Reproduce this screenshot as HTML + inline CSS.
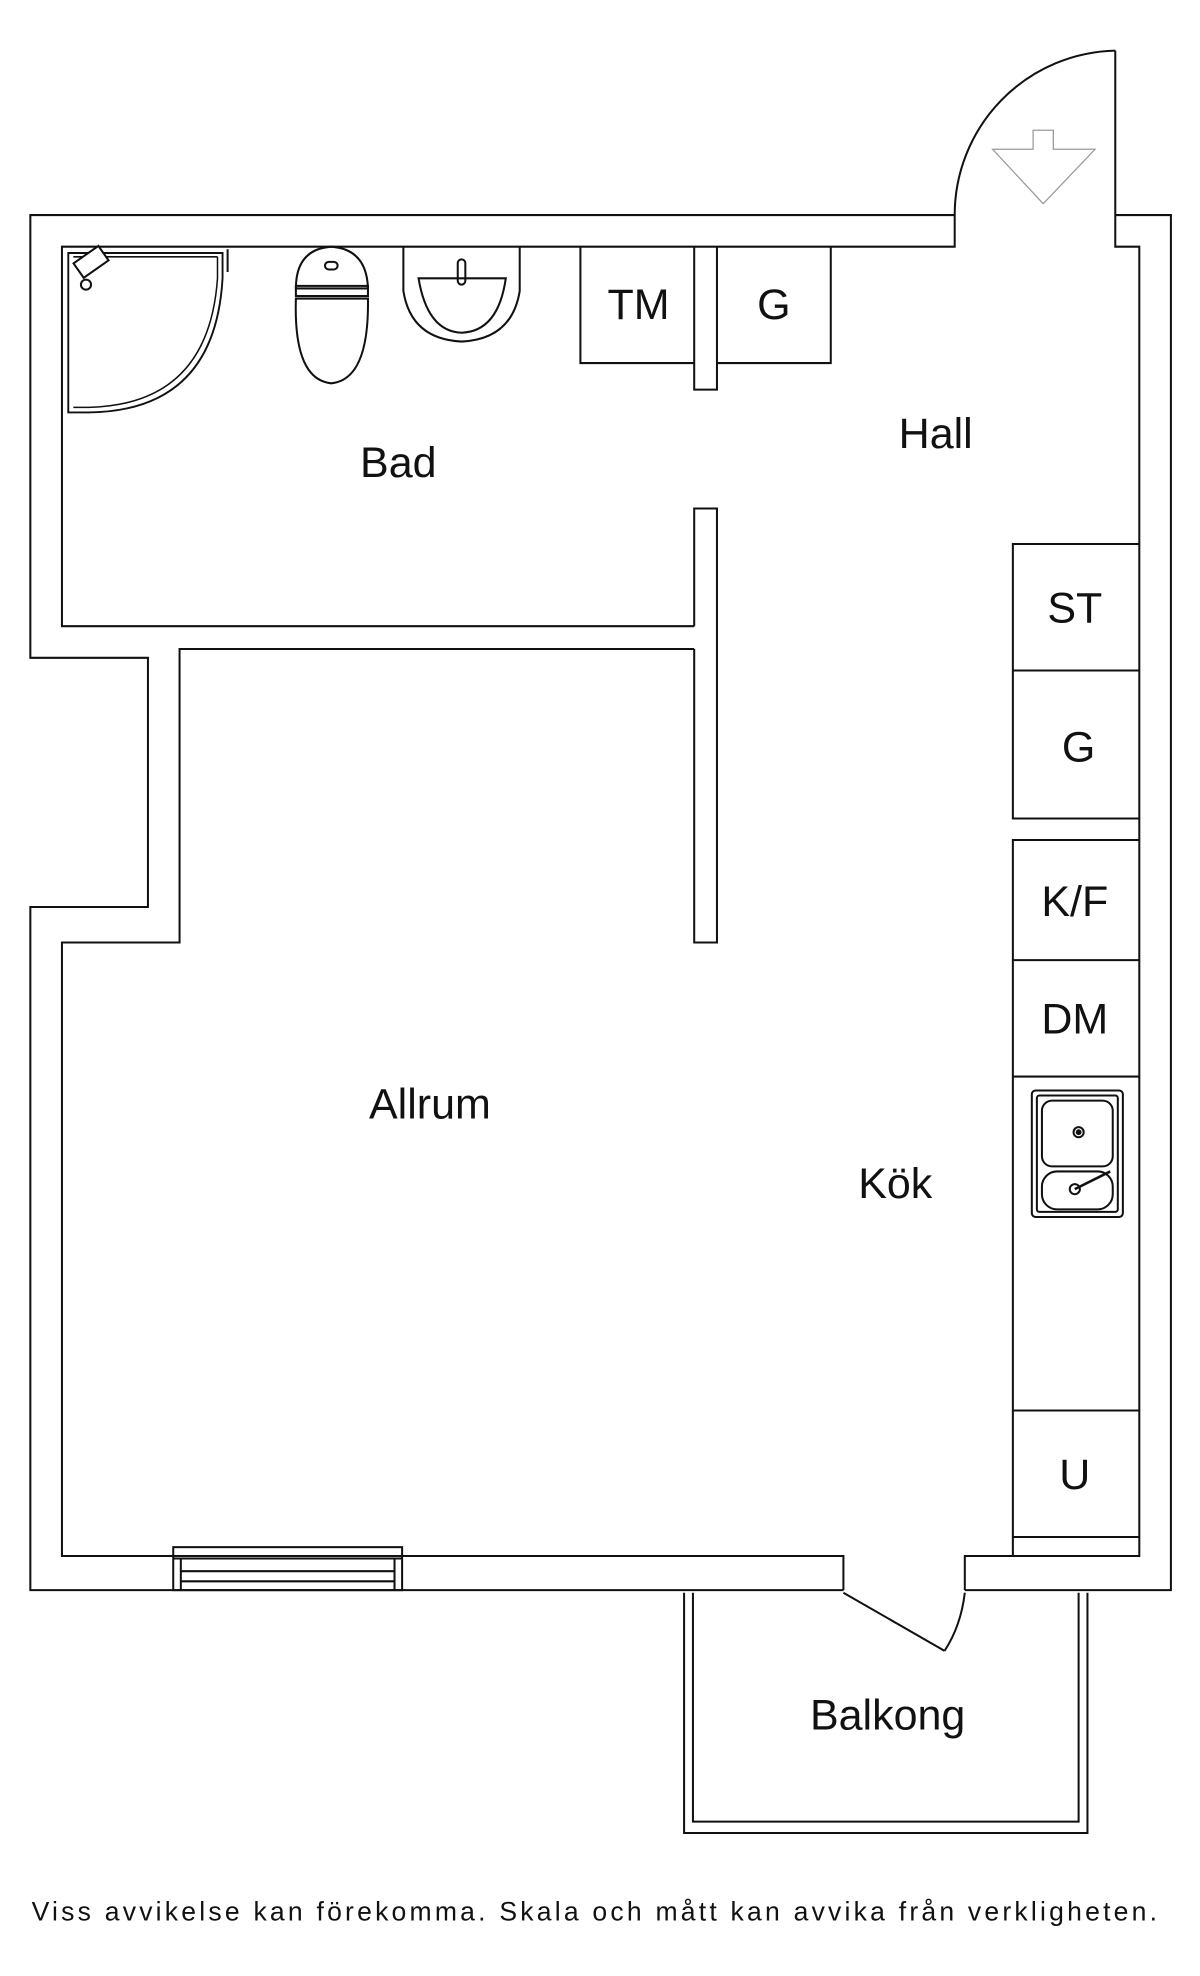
<!DOCTYPE html>
<html><head><meta charset="utf-8"><style>
html,body{margin:0;padding:0;background:#fff;width:1200px;height:1976px;overflow:hidden}
svg{display:block}
text{font-family:"Liberation Sans",sans-serif;fill:#111}
</style></head><body>
<svg width="1200" height="1976" viewBox="0 0 949 1562" preserveAspectRatio="none">
<g fill="none" stroke="#111" stroke-width="1.6">
<!-- outer wall -->
<polyline points="755,170 24,170 24,520 117,520 117,717 24,717 24,1257 667,1257"/>
<polyline points="763,1257 926,1257 926,170 882,170"/>
<!-- inner -->
<polyline points="755,170 755,195 49,195 49,495 549,495"/>
<polyline points="882,170 882,195 901,195 901,1230 763,1230 763,1257"/>
<polyline points="667,1257 667,1230 49,1230 49,745 142,745 142,513 549,513"/>
<!-- partition wall -->
<polyline points="549,195 549,308 567,308 567,195"/>
<polyline points="549,513 549,745 567,745 567,402 549,402 549,495"/>
<!-- TM / G -->
<polyline points="459,195 459,287 549,287"/>
<polyline points="567,287 657,287 657,195"/>
<!-- right cabinets -->
<polyline points="901,430 801,430 801,647 901,647"/>
<line x1="801" y1="530" x2="901" y2="530"/>
<polyline points="901,664 801,664 801,1230"/>
<line x1="801" y1="759" x2="901" y2="759"/>
<line x1="801" y1="851" x2="901" y2="851"/>
<line x1="801" y1="1115" x2="901" y2="1115"/>
<line x1="801" y1="1215" x2="901" y2="1215"/>
<!-- sink -->
<rect x="816" y="862" width="72" height="100" rx="3"/>
<rect x="820" y="866" width="64" height="92" rx="2"/>
<rect x="824" y="870" width="56" height="52" rx="8"/>
<rect x="824" y="926" width="56" height="30" rx="12"/>
<circle cx="853" cy="895" r="4"/><circle cx="853" cy="895" r="1.5" fill="#111"/>
<circle cx="850" cy="940" r="4"/>
<line x1="850" y1="940" x2="878" y2="926" stroke-width="2"/>
<!-- entrance door -->
<line x1="882" y1="40" x2="882" y2="170"/>
<path d="M882,40 A130,130 0 0 0 755,170"/>
<path d="M817,103 L833,103 L833,118 L866,118 L825,161 L785,118 L817,118 Z" stroke="#999" stroke-width="1"/>
<!-- window -->
<rect x="137" y="1223" width="181" height="34"/>
<line x1="137" y1="1232" x2="318" y2="1232"/>
<line x1="143" y1="1232" x2="143" y2="1257"/>
<line x1="312" y1="1232" x2="312" y2="1257"/>
<line x1="143" y1="1242" x2="312" y2="1242"/>
<line x1="143" y1="1250" x2="312" y2="1250"/>
<!-- balcony -->
<polyline points="541,1259 541,1449 860,1449 860,1259"/>
<polyline points="548,1259 548,1440 853,1440 853,1259"/>
<line x1="667" y1="1259" x2="747" y2="1305"/>
<path d="M747,1305 Q760,1285 763,1259"/>
<!-- shower -->
<path d="M54,200 L54,326 L70,326 Q170,325 176,220 L176,200 Z" stroke-width="1.5"/>
<path d="M58,203 L172,203 M58,322 L70,322 Q165,320 172,220 L172,203" stroke-width="1.2"/>
<line x1="180" y1="197" x2="180" y2="215"/>
<rect x="60" y="200" width="24" height="14" transform="rotate(-35 72 207)" fill="#fff"/>
<circle cx="68" cy="225" r="4"/>
<!-- toilet -->
<path d="M234,228 Q234,197 262,195 Q290,197 291,228 Z"/>
<rect x="234" y="226" width="57" height="8"/>
<path d="M234,236 Q232,300 262,303 Q292,300 291,236 Z"/>
<rect x="257" y="207" width="10" height="6" rx="3"/>
<!-- bathroom sink -->
<path d="M319,195 L319,230 Q325,268 365,270 Q405,268 411,230 L411,195"/>
<path d="M331,220 Q338,262 365,263 Q394,262 400,220 Z"/>
<rect x="362" y="205" width="6" height="20" rx="3"/>
</g>
<g font-size="34" text-anchor="middle">
<text x="315" y="377">Bad</text>
<text x="740" y="354">Hall</text>
<text x="505" y="252">TM</text>
<text x="612" y="252">G</text>
<text x="850" y="492">ST</text>
<text x="853" y="602">G</text>
<text x="850" y="724">K/F</text>
<text x="850" y="817">DM</text>
<text x="340" y="884">Allrum</text>
<text x="708" y="947">Kök</text>
<text x="850" y="1177">U</text>
<text x="702" y="1367">Balkong</text>
</g>
<text x="470" y="1518" font-size="21" text-anchor="middle" textLength="890" lengthAdjust="spacing" fill="#333">Viss avvikelse kan förekomma. Skala och mått kan avvika från verkligheten.</text>
</svg>
</body></html>
